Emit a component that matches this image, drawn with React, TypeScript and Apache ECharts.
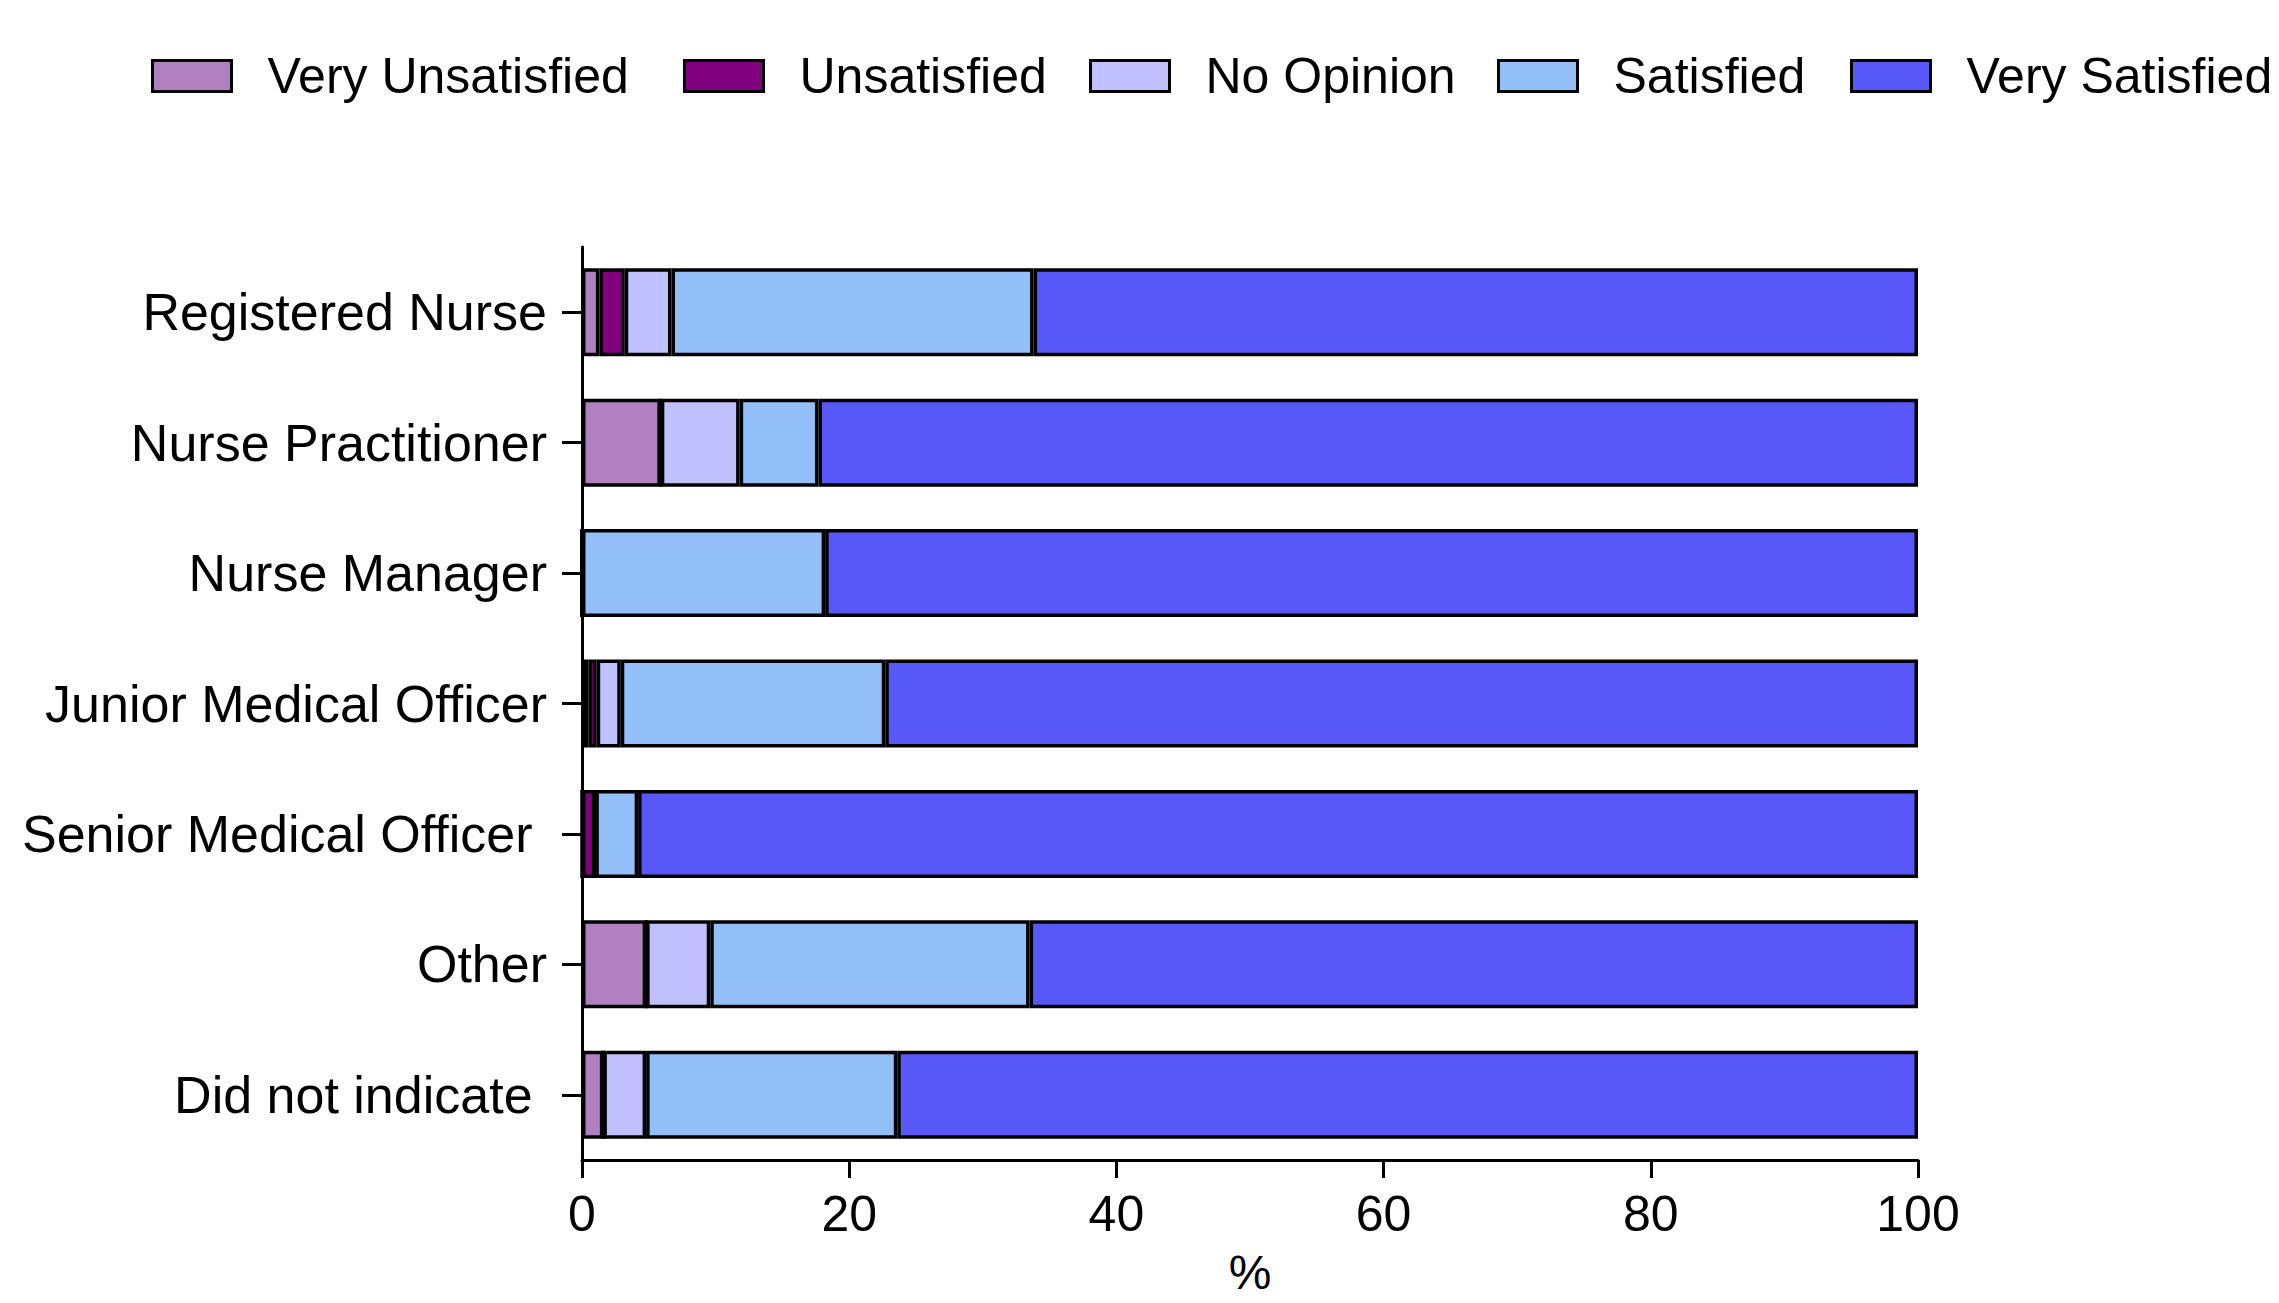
import React, { useEffect, useRef } from "react";
import * as echarts from "echarts";

const categories = [
  "Registered Nurse",
  "Nurse Practitioner",
  "Nurse Manager",
  "Junior Medical Officer",
  "Senior Medical Officer ",
  "Other",
  "Did not indicate ",
];
const seriesNames = ["Very Unsatisfied", "Unsatisfied", "No Opinion", "Satisfied", "Very Satisfied"];
const veryUnsatisfied = [1.3, 5.9, 0, 0.5, 0, 4.8, 1.6];
const unsatisfied = [1.9, 0, 0, 0.6, 1.0, 0, 0];
const noOpinion = [3.5, 5.9, 0, 1.8, 0, 4.8, 3.2];
const satisfied = [27.1, 5.9, 18.2, 19.8, 3.2, 23.9, 18.8];
const verySatisfied = [66.2, 82.3, 81.8, 77.3, 95.8, 66.5, 76.4];
const xTicks = [0, 20, 40, 60, 80, 100];

const colors = ["#B080C0", "#800080", "#C0C0FF", "#93BFF9", "#5858F9"];
const legendLefts = [146, 678, 1084, 1492, 1845];
const FONT = "'Liberation Sans', Arial, sans-serif";

export default function App() {
  const ref = useRef<HTMLDivElement>(null);
  useEffect(() => {
    document.body.style.margin = "0";
    if (!ref.current) return;
    const chart = echarts.init(ref.current, null, { renderer: "svg" });
    const values = [veryUnsatisfied, unsatisfied, noOpinion, satisfied, verySatisfied];
    chart.setOption({
      animation: false,
      backgroundColor: "#ffffff",
      textStyle: { fontFamily: FONT, color: "#000" },
      legend: seriesNames.map((name, i) => ({
        data: [{ name, icon: "rect" }],
        left: legendLefts[i],
        top: 46,
        itemWidth: 79,
        itemHeight: 31,
        selectedMode: false,
        textStyle: {
          fontFamily: FONT,
          fontSize: 50,
          color: "#000",
          lineHeight: 50,
          padding: [0, 0, 0, 31],
        },
        itemStyle: { borderColor: "#000", borderWidth: 3 },
      })),
      grid: {
        left: 582,
        right: 361,
        top: 247,
        bottom: 143,
        containLabel: false,
        outerBoundsMode: "none",
      },
      xAxis: {
        type: "value",
        min: xTicks[0],
        max: xTicks[xTicks.length - 1],
        interval: xTicks[1] - xTicks[0],
        name: "%",
        nameLocation: "middle",
        nameGap: 94,
        nameTextStyle: { fontFamily: FONT, fontSize: 48, color: "#000", lineHeight: 36 },
        axisLine: { show: true, lineStyle: { color: "#000", width: 3 } },
        axisTick: { show: true, length: 18, lineStyle: { color: "#000", width: 3 } },
        axisLabel: { fontFamily: FONT, fontSize: 50, color: "#000", margin: 29 },
        splitLine: { show: false },
      },
      yAxis: {
        type: "category",
        data: categories,
        inverse: true,
        axisLine: { show: true, lineStyle: { color: "#000", width: 3 } },
        axisTick: { show: true, alignWithLabel: true, length: 20, lineStyle: { color: "#000", width: 3 } },
        axisLabel: {
          fontFamily: FONT,
          fontSize: 52,
          color: "#000",
          margin: 35,
          formatter: (v: string) => v.replace(/ $/, "\u00a0"),
        },
        splitLine: { show: false },
      },
      series: seriesNames.map((name, i) => ({
        name,
        type: "bar",
        stack: "total",
        barWidth: 88,
        data: values[i],
        itemStyle: { color: colors[i], borderColor: "#000", borderWidth: 3.5 },
        emphasis: { disabled: true },
      })),
    });
    return () => chart.dispose();
  }, []);
  return <div ref={ref} style={{ width: 2279, height: 1303 }} />;
}
